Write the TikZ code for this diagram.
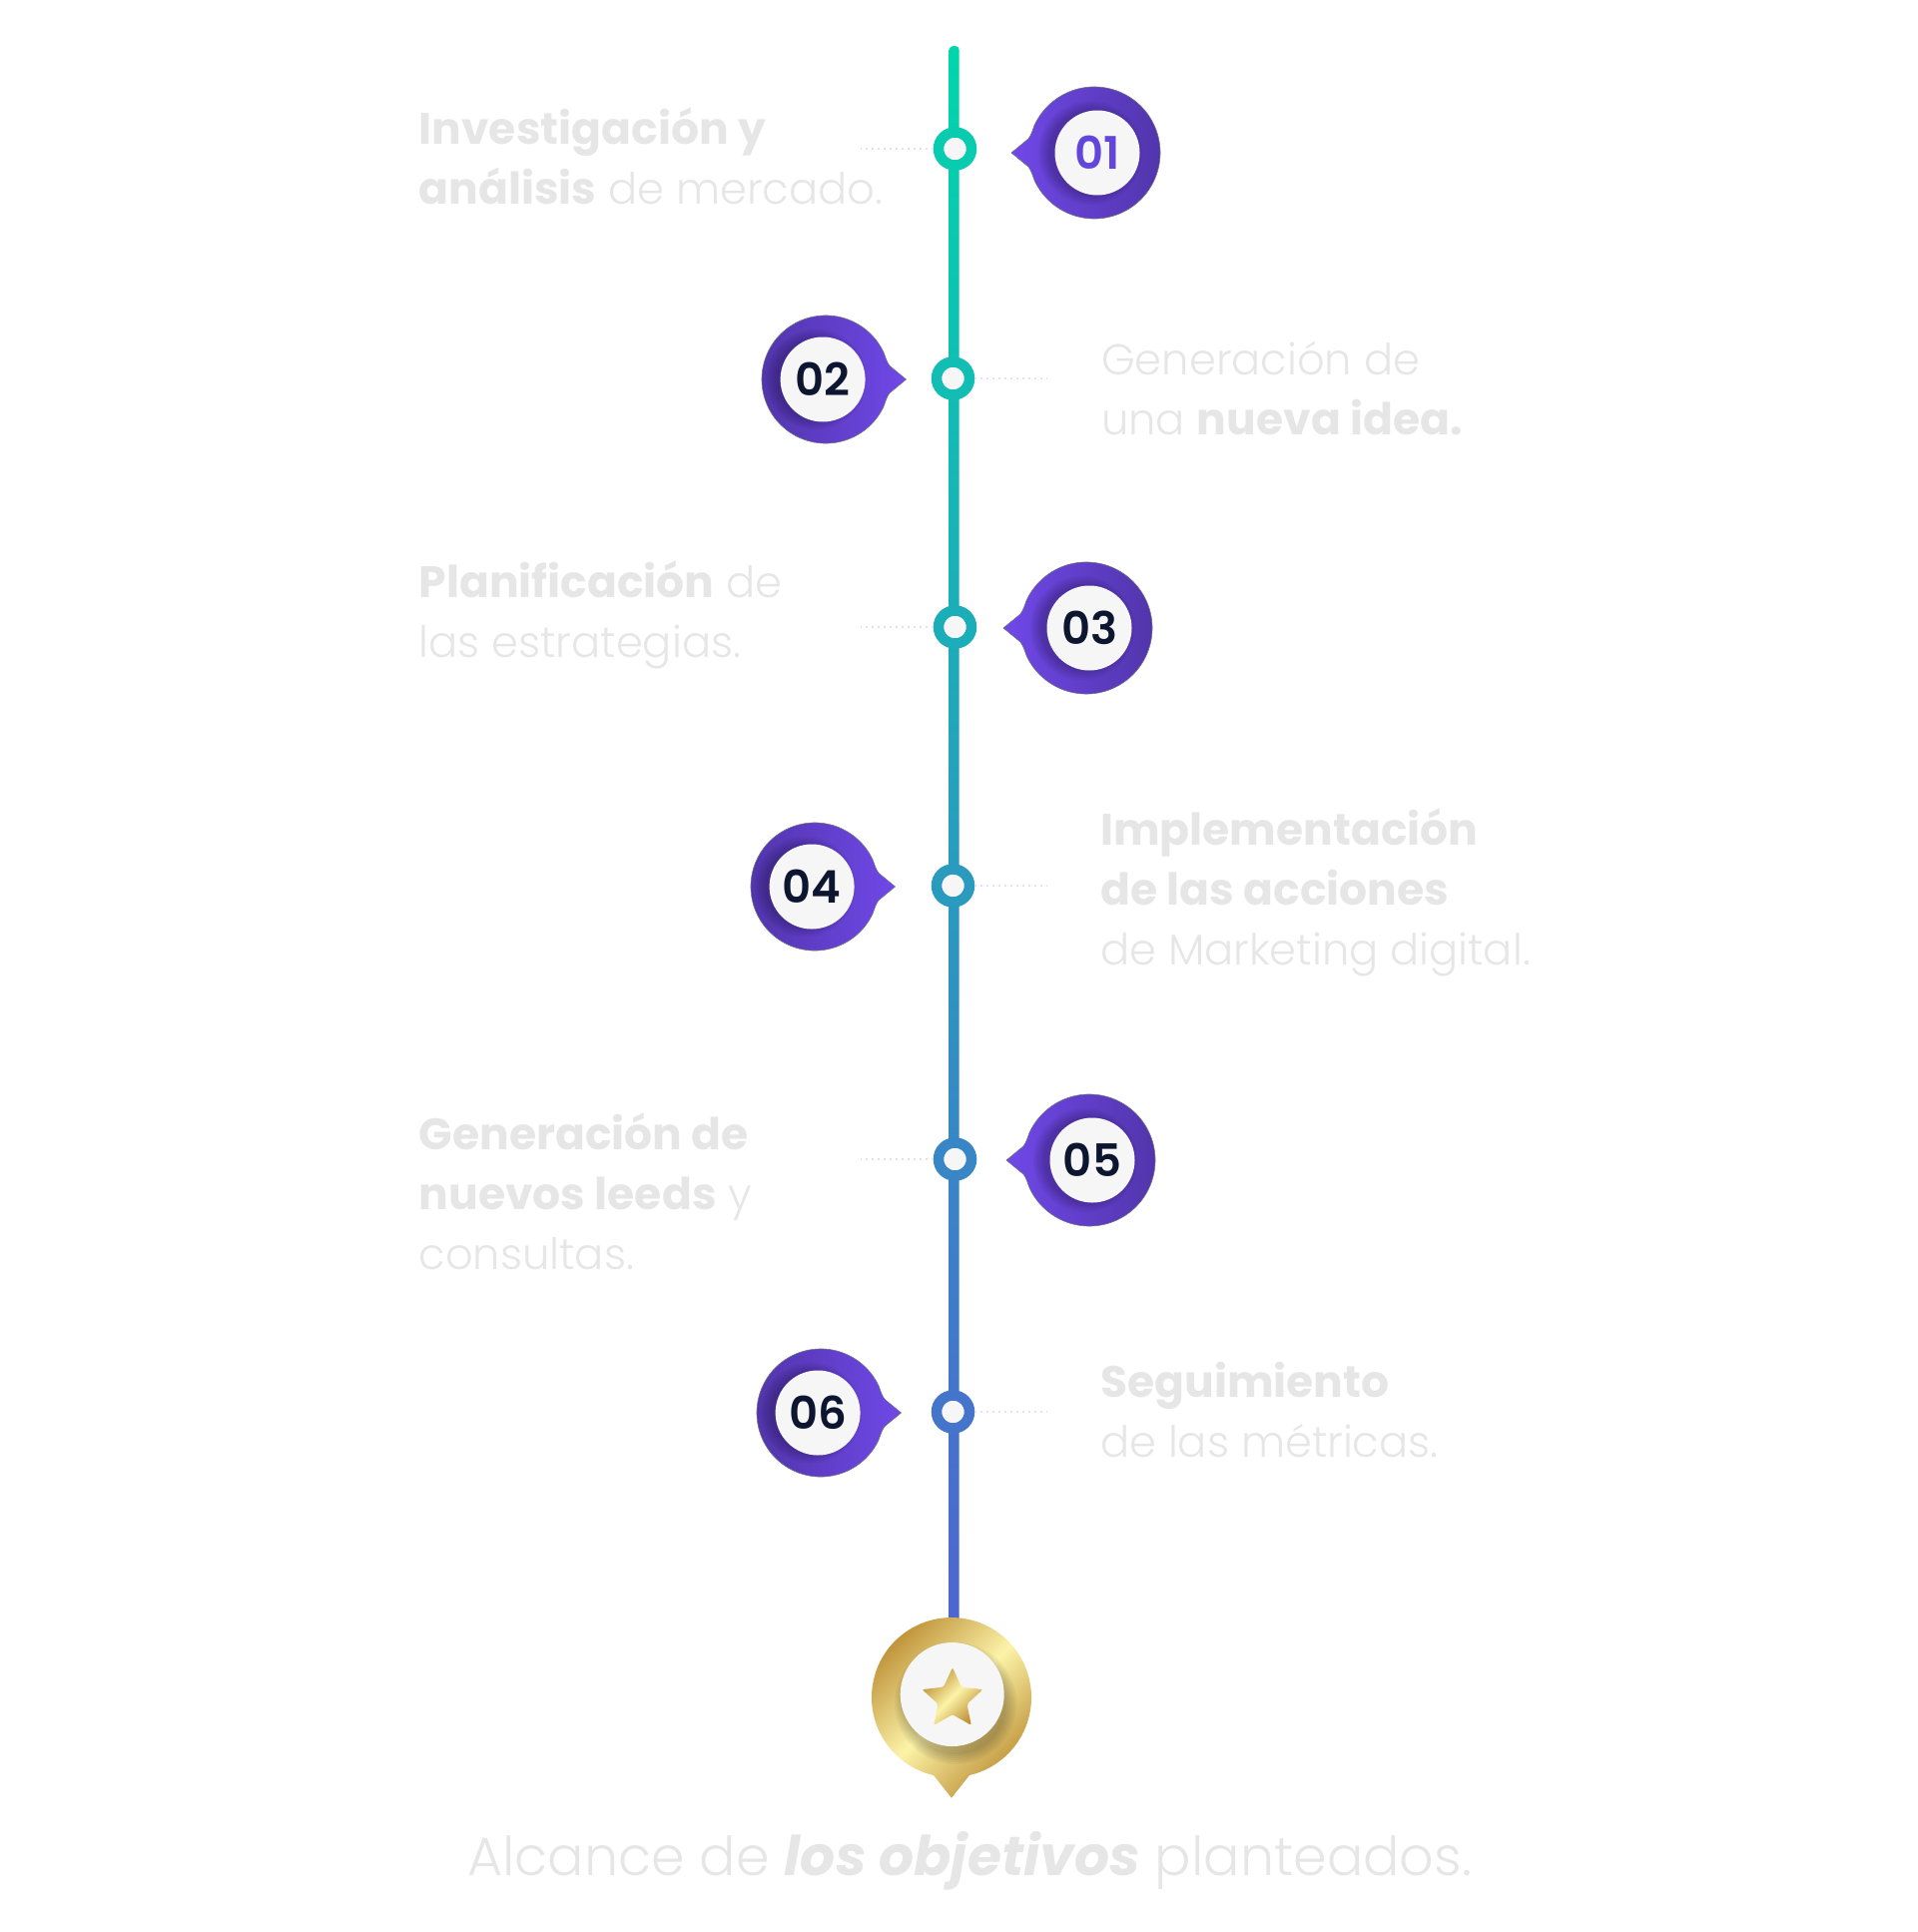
\documentclass[tikz,border=0pt]{standalone}
\usepackage{fontspec}
\setmainfont{Poppins Light}[BoldFont={Poppins Bold},BoldItalicFont={Poppins Bold Italic},BoldFeatures={Scale=1.02},BoldItalicFeatures={Scale=1.02}]
\newfontfamily\numfont{Poppins SemiBold}
\usetikzlibrary{shapes.geometric}
\definecolor{stemtop}{RGB}{0,214,171}
\definecolor{stembot}{RGB}{80,100,208}
\definecolor{tipbright}{RGB}{112,72,232}
\definecolor{tipdark}{RGB}{80,52,168}
\definecolor{labelgrey}{RGB}{230,230,230}
\definecolor{discfill}{RGB}{246,246,247}
\definecolor{numdark}{RGB}{13,22,48}
\definecolor{numpurple}{RGB}{98,70,220}
\definecolor{goldlight}{RGB}{252,243,168}
\definecolor{golddark}{RGB}{188,142,52}
\tikzset{ring/.style={circle,fill=discfill,line width=10.5pt,minimum size=33pt,inner sep=0pt},
 leader/.style={dash pattern=on 2pt off 4pt,line width=2pt,color=tipbright!18},
 stepdisc/.style={circle,fill=discfill,minimum size=85pt,inner sep=0pt,font=\numfont\fontsize{45}{45}\selectfont},
 bubbleleft/.style={left color=tipbright,right color=tipdark},
 bubbleright/.style={left color=tipdark,right color=tipbright},
 steplabel/.style={anchor=west,align=left,text=labelgrey,font=\fontsize{43.2}{60}\selectfont,inner sep=0pt},
 goldshade/.style={top color=golddark,bottom color=golddark,middle color=goldlight,shading angle=45}}

\begin{document}
\begin{tikzpicture}[x=1pt,y=-1pt]
\useasboundingbox (0,0) rectangle (1920,1935);
% stem
\shade[top color=stemtop,bottom color=stembot,rounded corners=4pt] (950.7,46) rectangle (960.7,1640);
% step markers on the stem
\node[ring,draw=stemtop!90!stembot] (m1) at (956.5,149) {};
\node[ring,draw=stemtop!78!stembot] (m2) at (954.5,379) {};
\node[ring,draw=stemtop!65!stembot] (m3) at (956.5,628) {};
\node[ring,draw=stemtop!48!stembot] (m4) at (954.5,887) {};
\node[ring,draw=stemtop!30!stembot] (m5) at (956.5,1161) {};
\node[ring,draw=stemtop!14!stembot] (m6) at (954.5,1414) {};
% dotted leaders
\coordinate (e1) at (862,149);
\coordinate (e2) at (1049,379);
\coordinate (e3) at (862,628);
\coordinate (e4) at (1049,887);
\coordinate (e5) at (862,1161);
\coordinate (e6) at (1049,1414);
\foreach \k in {1,...,6} \draw[leader] (m\k) -- (e\k);
% numbered bubbles
\foreach \k/\bx/\by/\dir/\sz/\side/\numcol in {1/1096/153/1/1/bubbleleft/numpurple,2/827/380/-1/.97/bubbleright/numdark,
 3/1088/629/1/1/bubbleleft/numdark,4/816/888/-1/.97/bubbleright/numdark,
 5/1091/1162/1/1/bubbleleft/numdark,6/822/1415/-1/.97/bubbleright/numdark}{
 \begin{scope}[shift={(\bx,\by)},y=1pt,scale=\sz,xscale=\dir]
 \shadedraw[\side,draw=numdark!60,line width=.6pt] (-83,0) -- (-66,-14) .. controls (-63,-18) and (-62,-22) .. (205:66) arc[start angle=205,end angle=515,radius=66] .. controls (-62,22) and (-63,18) .. (-66,14) -- cycle;
 \foreach \r in {42,44,...,52} \fill[black,opacity=.04] ({3-7*\dir},0) circle[radius=\r];
 \node[stepdisc,text=\numcol] (n\k) at (3,0) {0\k};
 \end{scope}}
% gold bubble
\shade[goldshade] (953,1800.7) -- (935,1778) arc[start angle=103,end angle=437,radius=80] -- cycle;
\foreach \r in {51,53,...,61} \fill[black,opacity=.04] (957,1706) circle[radius=\r];
\node[circle,fill=discfill,minimum size=104pt,inner sep=0pt] (goal) at (953.7,1697) {};
\node[star,star points=5,star point ratio=2.1,minimum size=64pt,inner sep=0pt,rounded corners=2pt,goldshade] (goalstar) at (954,1702) {};
% labels
\node[steplabel] (t1) at (419.5,156.5) {\textbf{Investigación y}\\\textbf{análisis} de mercado.};
\node[steplabel] (t2) at (1103,389) {Generación de\\una \textbf{nueva idea.}};
\node[steplabel] (t3) at (419.5,616) {\textbf{Planificación} de\\las estrategias.};
\node[steplabel] (t4) at (1102,893.5) {\textbf{Implementación}\\\textbf{de las acciones}\\de Marketing digital.};
\node[steplabel] (t5) at (419.5,1193) {\textbf{Generación de}\\\textbf{nuevos leeds} y\\consultas.};
\node[steplabel] (t6) at (1102,1412.5) {\textbf{Seguimiento}\\de las métricas.};
\node[steplabel,anchor=center,font=\fontsize{54}{60}\selectfont] (t7) at (971,1864) {Alcance de \textbf{\textit{los objetivos}} planteados.};
\end{tikzpicture}
\end{document}
